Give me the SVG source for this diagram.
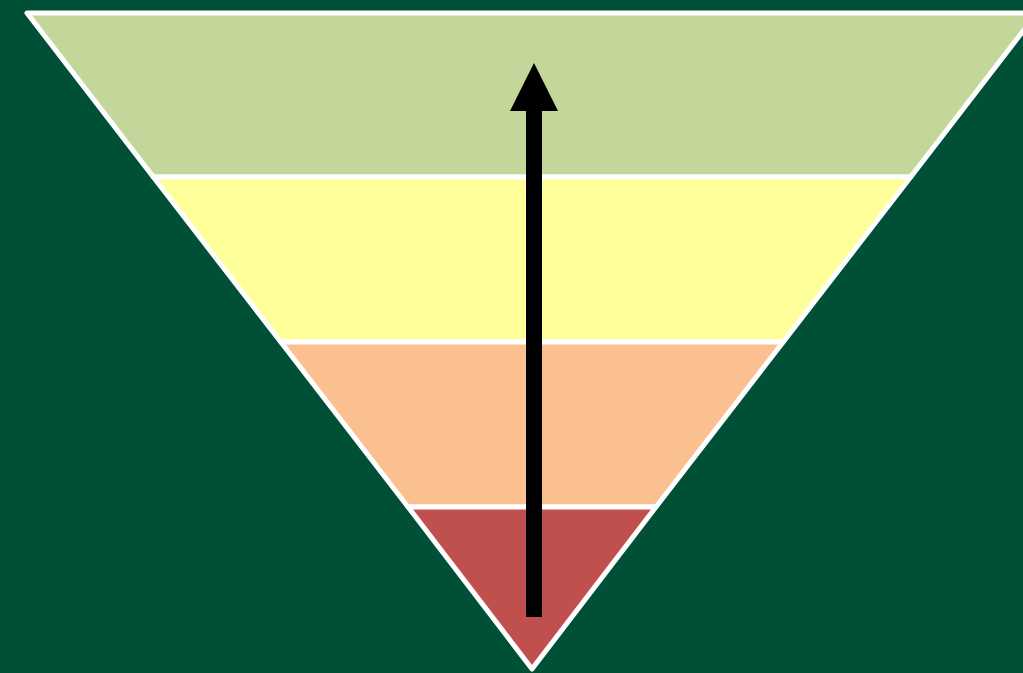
<svg xmlns="http://www.w3.org/2000/svg" width="1023" height="673" viewBox="0 0 1023 673">
<style>
.band{stroke:#FFFFFF;stroke-width:5;stroke-linejoin:round}
</style>
<rect x="0" y="0" width="1023" height="673" fill="#004F37"/>
<g id="band1"><polygon class="band" fill="#C4D79B" points="27,13 1037,13 910.7,177 153.3,177"/></g>
<g id="band2"><polygon class="band" fill="#FFFF99" points="153.3,177 910.7,177 783.2,342 280.8,342"/></g>
<g id="band3"><polygon class="band" fill="#FAC090" points="280.8,342 783.2,342 655.9,507 408.1,507"/></g>
<g id="band4"><polygon class="band" fill="#C0504D" points="408.1,507 655.9,507 532,669"/></g>
<g id="connectors">
<rect x="526" y="108" width="16" height="509" fill="#000000"/>
<polygon points="534,63 558,111 510,111" fill="#000000"/>
</g>
</svg>
